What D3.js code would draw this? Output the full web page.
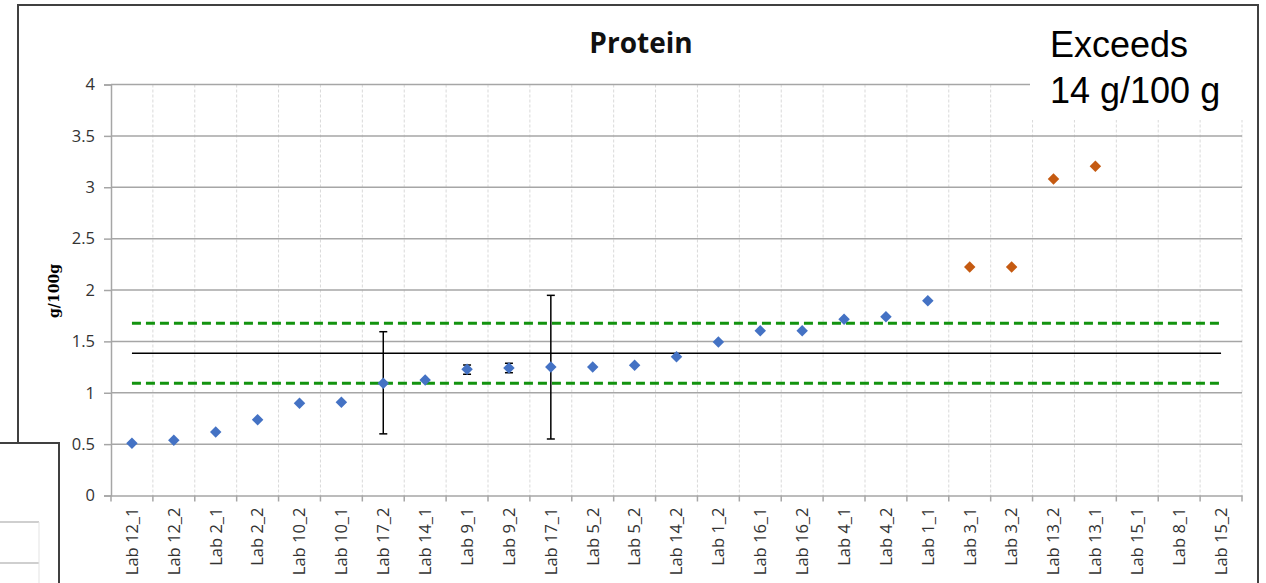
<!DOCTYPE html>
<html>
<head>
<meta charset="utf-8">
<script src="https://cdn.jsdelivr.net/npm/d3@7"></script>
<style>
  body { margin: 0; background: white; overflow: hidden; }
</style>
</head>
<body>
<div id="chart"></div>
<script>
// data
var labs = ["Lab 12_1", "Lab 12_2", "Lab 2_1", "Lab 2_2", "Lab 10_2", "Lab 10_1", "Lab 17_2",
            "Lab 14_1", "Lab 9_1", "Lab 9_2", "Lab 17_1", "Lab 5_2", "Lab 5_2", "Lab 14_2",
            "Lab 1_2", "Lab 16_1", "Lab 16_2", "Lab 4_1", "Lab 4_2", "Lab 1_1", "Lab 3_1",
            "Lab 3_2", "Lab 13_2", "Lab 13_1", "Lab 15_1", "Lab 8_1", "Lab 15_2"];
var protein = [0.508, 0.537, 0.618, 0.738, 0.897, 0.907, 1.092,
               1.124, 1.228, 1.241, 1.25, 1.25, 1.267, 1.351,
               1.494, 1.604, 1.604, 1.715, 1.74, 1.896, 2.224,
               2.224, 3.08, 3.204, null, null, null];
var errLow  = [null, null, null, null, null, null, 0.60,
               null, 1.18, 1.195, 0.55, null, null, null,
               null, null, null, null, null, null, null,
               null, null, null, null, null, null];
var errHigh = [null, null, null, null, null, null, 1.594,
               null, 1.27, 1.287, 1.948, null, null, null,
               null, null, null, null, null, null, null,
               null, null, null, null, null, null];
var exceeds = [false, false, false, false, false, false, false,
               false, false, false, false, false, false, false,
               false, false, false, false, false, false, true,
               true, true, true, false, false, false];
var yTicks = [0, 0.5, 1, 1.5, 2, 2.5, 3, 3.5, 4];
var meanValue = 1.384, lowerLimit = 1.092, upperLimit = 1.676;

var W = 1266, H = 583;
var margin = {top: 84.5, right: 24, bottom: 87.5, left: 111},
    width = W - margin.left - margin.right,
    height = H - margin.top - margin.bottom;

var svg = d3.select("#chart").append("svg")
    .attr("width", W)
    .attr("height", H);

// outer chart frame
svg.append("rect")
    .attr("x", 18).attr("y", 5)
    .attr("width", 1240).attr("height", 640)
    .attr("fill", "white")
    .attr("stroke", "#404040")
    .attr("stroke-width", 2);

var g = svg.append("g")
    .attr("transform", "translate(" + margin.left + "," + margin.top + ")");

var idx = d3.range(labs.length);
var x = d3.scaleBand().domain(idx).range([0, width]);
var y = d3.scaleLinear().domain([0, 4]).range([height, 0]);

// vertical (minor) gridlines at category boundaries
g.append("g").selectAll("line")
  .data(d3.range(1, labs.length + 1))
  .enter().append("line")
    .attr("x1", function(i) { return i * x.step(); })
    .attr("x2", function(i) { return i * x.step(); })
    .attr("y1", 0).attr("y2", height)
    .attr("stroke", "#d9d9d9")
    .attr("stroke-width", 1)
    .attr("stroke-dasharray", "3,2");

// horizontal gridlines
g.append("g").selectAll("line")
  .data(yTicks.slice(1))
  .enter().append("line")
    .attr("x1", 0).attr("x2", width)
    .attr("y1", function(d) { return y(d); })
    .attr("y2", function(d) { return y(d); })
    .attr("stroke", "#a6a6a6")
    .attr("stroke-width", 1.5);

// y axis
var yAxis = g.append("g")
    .call(d3.axisLeft(y).tickValues(yTicks).tickSize(7).tickPadding(9)
      .tickFormat(function(d) { return d; }));
yAxis.select(".domain").attr("stroke", "#a6a6a6").attr("stroke-width", 1.5);
yAxis.selectAll(".tick line").attr("stroke", "#a6a6a6").attr("stroke-width", 1.5);
yAxis.selectAll("text")
    .style("font-family", "'Open Sans', sans-serif")
    .style("font-size", "16.5px")
    .attr("fill", "#333");

// x axis
var xAxis = g.append("g")
    .attr("transform", "translate(0," + height + ")")
    .call(d3.axisBottom(x).tickSize(0).tickFormat(function(i) { return labs[i]; }));
xAxis.select(".domain").attr("stroke", "#a6a6a6").attr("stroke-width", 1.5);
xAxis.selectAll("text")
    .attr("transform", "rotate(-90)")
    .attr("x", -12).attr("y", 0).attr("dy", "0.35em")
    .attr("text-anchor", "end")
    .style("font-family", "'Open Sans', sans-serif")
    .style("font-size", "16.5px")
    .attr("fill", "#333");
xAxis.append("g").selectAll("line")
  .data(d3.range(labs.length + 1))
  .enter().append("line")
    .attr("x1", function(i) { return i * x.step(); })
    .attr("x2", function(i) { return i * x.step(); })
    .attr("y1", 0).attr("y2", 6)
    .attr("stroke", "#a6a6a6")
    .attr("stroke-width", 1.5);

// reference lines: mean and limits
var firstC = x(0) + x.bandwidth() / 2,
    lastC = x(labs.length - 1) + x.bandwidth() / 2;
[lowerLimit, upperLimit].forEach(function(v) {
  g.append("line")
    .attr("x1", firstC).attr("x2", lastC)
    .attr("y1", y(v)).attr("y2", y(v))
    .attr("stroke", "#13930f")
    .attr("stroke-width", 3)
    .attr("stroke-dasharray", "9,5");
});
g.append("line")
  .attr("x1", firstC).attr("x2", lastC)
  .attr("y1", y(meanValue)).attr("y2", y(meanValue))
  .attr("stroke", "black")
  .attr("stroke-width", 1.5);

// error bars
var errIdx = idx.filter(function(i) { return errLow[i] != null; });
var eb = g.append("g").selectAll("g").data(errIdx).enter().append("g")
    .attr("transform", function(i) { return "translate(" + (x(i) + x.bandwidth() / 2) + ",0)"; });
eb.append("line")
    .attr("y1", function(i) { return y(errLow[i]); })
    .attr("y2", function(i) { return y(errHigh[i]); })
    .attr("stroke", "black").attr("stroke-width", 1.5);
eb.append("line")
    .attr("x1", -4).attr("x2", 4)
    .attr("y1", function(i) { return y(errLow[i]); })
    .attr("y2", function(i) { return y(errLow[i]); })
    .attr("stroke", "black").attr("stroke-width", 1.5);
eb.append("line")
    .attr("x1", -4).attr("x2", 4)
    .attr("y1", function(i) { return y(errHigh[i]); })
    .attr("y2", function(i) { return y(errHigh[i]); })
    .attr("stroke", "black").attr("stroke-width", 1.5);

// diamond markers
var diamond = d3.symbol(d3.symbolSquare, 66);
g.append("g").selectAll("path")
  .data(idx.filter(function(i) { return protein[i] != null; }))
  .enter().append("path")
    .attr("d", diamond)
    .attr("transform", function(i) {
      return "translate(" + (x(i) + x.bandwidth() / 2) + "," + y(protein[i]) + ") rotate(45)";
    })
    .attr("fill", function(i) { return exceeds[i] ? "#c55a11" : "#4472c4"; });

// title
svg.append("text")
    .attr("x", 641).attr("y", 53)
    .attr("text-anchor", "middle")
    .style("font-family", "'Open Sans', sans-serif")
    .style("font-weight", "bold")
    .style("font-size", "28px")
    .attr("fill", "#111")
    .text("Protein");

// y axis title
svg.append("text")
    .attr("transform", "translate(59,291) rotate(-90)")
    .attr("text-anchor", "middle")
    .style("font-family", "'DejaVu Serif', serif")
    .style("font-weight", "bold")
    .style("font-size", "14px")
    .attr("fill", "black")
    .text("g/100g");

// annotation box on top right
svg.append("rect")
    .attr("x", 1030).attr("y", 18)
    .attr("width", 220).attr("height", 102)
    .attr("fill", "white");
var note = svg.append("text")
    .style("font-family", "'Liberation Sans', Arial, sans-serif")
    .style("font-size", "36px")
    .attr("fill", "black");
note.append("tspan").attr("x", 1050).attr("y", 57).text("Exceeds");
note.append("tspan").attr("x", 1050).attr("y", 103).text("14 g/100 g");

// edge of a neighbouring chart overlapping the bottom-left corner
svg.append("rect")
    .attr("x", -2).attr("y", 443)
    .attr("width", 61).attr("height", 200)
    .attr("fill", "white")
    .attr("stroke", "#404040")
    .attr("stroke-width", 2);
svg.append("g").selectAll("line")
  .data([522, 563])
  .enter().append("line")
    .attr("x1", 0).attr("x2", 39)
    .attr("y1", function(d) { return d; }).attr("y2", function(d) { return d; })
    .attr("stroke", "#bfbfbf").attr("stroke-width", 1.5);
svg.append("line")
    .attr("x1", 39).attr("x2", 39).attr("y1", 522).attr("y2", 583)
    .attr("stroke", "#e3e3e3").attr("stroke-width", 1);
</script>
</body>
</html>
